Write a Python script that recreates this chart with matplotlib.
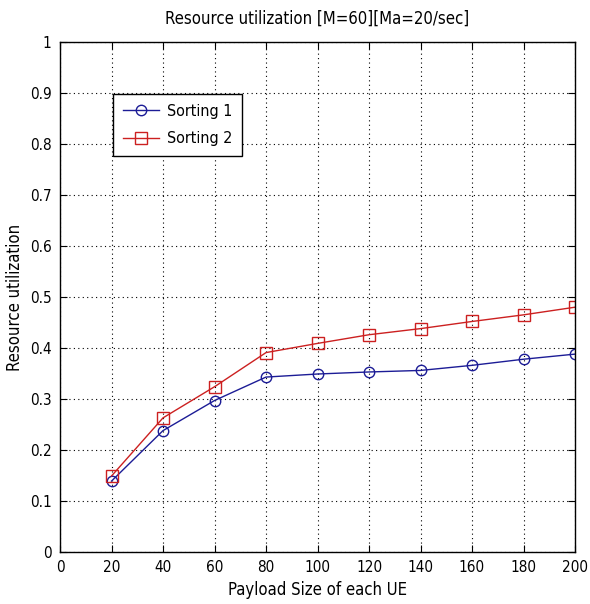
import matplotlib
matplotlib.use("Agg")
from matplotlib import pyplot as plt

plt.rcParams['font.family'] = ['DejaVu Sans']
plt.rcParams['font.stretch'] = 'condensed'

payload = [20, 40, 60, 80, 100, 120, 140, 160, 180, 200]
sorting1 = [0.139, 0.238, 0.297, 0.343, 0.349, 0.353, 0.356, 0.366, 0.378, 0.388]
sorting2 = [0.149, 0.263, 0.324, 0.391, 0.409, 0.426, 0.438, 0.452, 0.465, 0.480]
xticks = list(range(0, 201, 20))
yticks = [i / 10 for i in range(11)]

fig = plt.figure(figsize=(5.9, 6.04), dpi=100)
ax = fig.add_axes([60 / 590, 52 / 604, 515 / 590, 510 / 604])

ax.plot(payload, sorting1, color='#1c1c96', marker='o', markersize=7.5,
        markerfacecolor='none', linewidth=1.0, label='Sorting 1')
ax.plot(payload, sorting2, color='#cc2020', marker='s', markersize=8,
        markerfacecolor='none', linewidth=1.0, label='Sorting 2')

ax.set_xlim(0, 200)
ax.set_ylim(0, 1)
ax.set_xticks(xticks)
ax.set_yticks(yticks)
ax.set_yticklabels(['0'] + ['%.1f' % v for v in yticks[1:-1]] + ['1'])
ax.grid(True, color='black', linestyle=(0, (1, 3)), linewidth=0.8)
ax.tick_params(direction='in', top=True, right=True, length=5, labelsize=11, pad=6)
for s in ax.spines.values():
    s.set_linewidth(1.0)

ax.set_title('Resource utilization [M=60][Ma=20/sec]', fontsize=12, pad=13)
ax.set_xlabel('Payload Size of each UE', fontsize=12, labelpad=4)
ax.set_ylabel('Resource utilization', fontsize=12, labelpad=4)

leg = ax.legend(loc='upper left', bbox_to_anchor=(0.103, 0.898), fontsize=11.5,
                fancybox=False, framealpha=1, edgecolor='black', borderaxespad=0,
                handlelength=2.3, handletextpad=0.5, borderpad=0.6, labelspacing=0.8)
leg.get_frame().set_linewidth(1.0)

fig.savefig('out.png', dpi=100)
